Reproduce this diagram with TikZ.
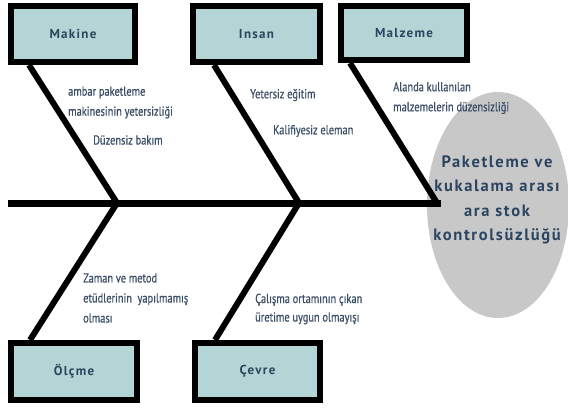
\documentclass[tikz,border=0pt]{standalone}
\usepackage{fontspec}
\usetikzlibrary{shapes.geometric}
\newfontfamily\causefont[FakeStretch=0.8,FakeBold=0.6]{PT Sans}
\newfontfamily\catfont[LetterSpace=10]{PT Sans}
\newfontfamily\effectfont[LetterSpace=10]{PT Sans}
\definecolor{boxfill}{HTML}{B3D5D5}
\definecolor{inkblue}{HTML}{2C4560}
\definecolor{causeink}{HTML}{3A4E66}
\definecolor{headgray}{HTML}{C8C8C8}
\tikzset{
  catbox/.style={draw=black, line width=6pt, fill=boxfill, minimum height=56pt,
    inner sep=0pt, text=inkblue, font=\catfont\bfseries\fontsize{13}{13}\selectfont},
  bone/.style={line width=6pt, line cap=butt},
  cause/.style={anchor=west, inner sep=0pt, align=left, text=causeink,
    font=\causefont\fontsize{13}{20}\selectfont},
}
\begin{document}
\begin{tikzpicture}[x=1pt, y=-1pt]
\useasboundingbox (0,0) rectangle (568,410);

% effect (head of the fish): grey oval with the problem statement on it
\node[ellipse, fill=headgray, minimum width=142pt, minimum height=226pt, inner sep=0pt]
  (effect) at (498,205) {};
\node[text=inkblue, align=center, inner sep=0pt,
  font=\effectfont\bfseries\fontsize{16.5}{24.5}\selectfont]
  (effecttext) at (497,200) {Paketleme ve\\kukalama arası\\ara stok\\kontrolsüzlüğü};

% category boxes
\node[catbox, minimum width=124pt] (mak) at (73,34) {Makine};
\node[catbox, minimum width=127pt] (ins) at (256.5,34) {Insan};
\node[catbox, minimum width=126pt, minimum height=54pt] (mal) at (404,33) {Malzeme};
\node[catbox, minimum width=126pt, minimum height=57pt] (olc) at (74,371.5) {Ölçme};
\node[catbox, minimum width=125pt, minimum height=57pt] (cev) at (257.5,371.5) {Çevre};

% spine and junctions
\coordinate (tail) at (8,203);
\coordinate (head) at (441,203);
\coordinate (j1) at (117,203);
\coordinate (j2) at (299,203);
\coordinate (j3) at (437,203);
\draw[line width=7pt] (tail) -- (head);

% bones
\draw[bone] ([xshift=21pt]mak.south west) -- (j1);
\draw[bone] ([xshift=22pt]olc.north west) -- (j1);
\draw[bone] ([xshift=24pt]ins.south west) -- (j2);
\draw[bone] ([xshift=23pt]cev.north west) -- (j2);
\draw[bone] ([xshift=12pt]mal.south west) -- (j3);

% causes
\node[cause] (c1) at (68,102.5) {ambar paketleme\\makinesinin yetersizliği};
\node[cause] (c2) at (93,140) {Düzensiz bakım};
\node[cause] (c3) at (250,95) {Yetersiz eğitim};
\node[cause] (c4) at (273,131) {Kalifiyesiz eleman};
\node[cause] (c5) at (393,98) {Alanda kullanılan\\malzemelerin düzensizliği};
\node[cause] (c6) at (83,298) {Zaman ve metod\\etüdlerinin\ \ yapılmamış\\olması};
\node[cause, font=\causefont\fontsize{13}{18.5}\selectfont] (c7) at (255,309)
  {Çalışma ortamının çıkan\\üretime uygun olmayışı};
\end{tikzpicture}
\end{document}
